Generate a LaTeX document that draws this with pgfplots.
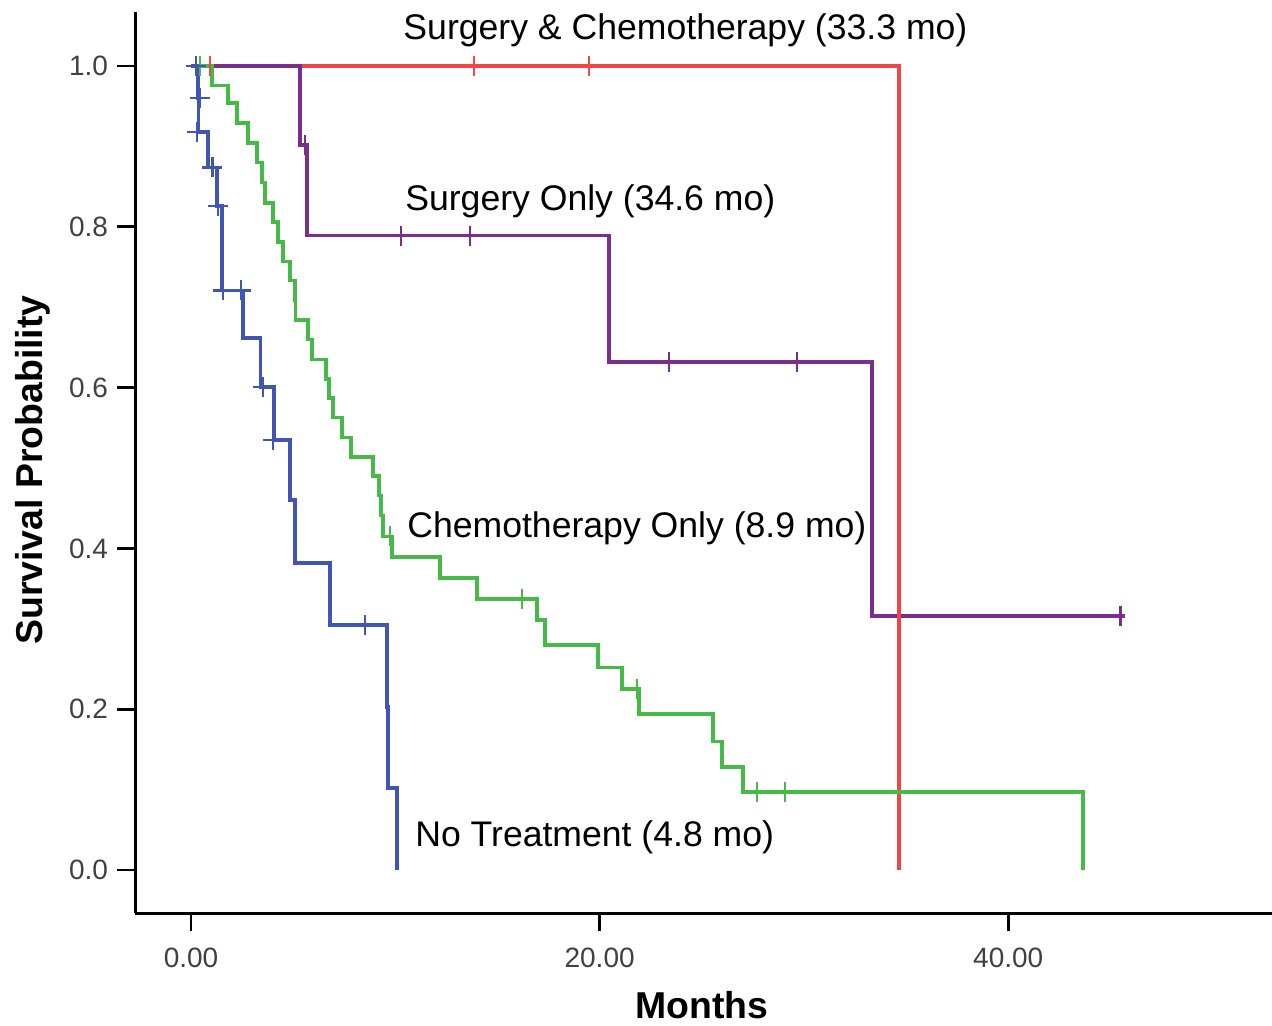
\documentclass[border=0pt]{standalone}
\usepackage{fontspec}
\setmainfont{Liberation Sans}
\usepackage{pgfplots}
\pgfplotsset{compat=1.18}
\definecolor{cred}{RGB}{240,70,70}
\definecolor{cpurple}{RGB}{122,46,142}
\definecolor{cgreen}{RGB}{70,185,70}
\definecolor{cblue}{RGB}{65,85,180}
\begin{document}
\begin{tikzpicture}
\useasboundingbox (0,0) rectangle (636pt,512.5pt);
\begin{axis}[
  at={(67.5pt,56pt)}, anchor=south west,
  scale only axis, width=568.5pt, height=450.5pt,
  xmin=-2.741, xmax=52.91, ymin=-0.0535, ymax=1.0672,
  axis lines=left, axis line style={-, line width=1.5pt, black},
  clip=false,
  tick align=outside, major tick length=9pt,
  tick style={line width=1.4pt, black},
  xtick={0,20,40}, ytick={0,0.2,0.4,0.6,0.8,1.0},
  /pgf/number format/assume math mode=true,
  xticklabel style={font=\fontsize{14}{16}\selectfont, text=black!75, yshift=-5pt,
    /pgf/number format/fixed, /pgf/number format/fixed zerofill,
    /pgf/number format/precision=2},
  yticklabel style={font=\fontsize{14}{16}\selectfont, text=black!75, xshift=-1pt,
    /pgf/number format/fixed, /pgf/number format/fixed zerofill,
    /pgf/number format/precision=1},
  every axis plot/.append style={line width=1.8pt},
]
% Surgery & Chemotherapy (red)
\addplot[cred, const plot, mark=none] coordinates {(0,1)(34.65,1)(34.65,0)};
\addplot[cred, only marks, mark=|, mark size=5pt, mark options={line width=1.3pt}] coordinates {(0.93,1)(13.85,1)(19.48,1)};
% Surgery only (purple)
\addplot[cpurple, const plot, mark=none] coordinates {(0,1)(5.34,0.902)(5.68,0.789)(20.46,0.632)(33.33,0.316)(45.72,0.316)};
\addplot[cpurple, only marks, mark=|, mark size=5pt, mark options={line width=1.3pt}] coordinates {(5.58,0.902)(10.28,0.789)(13.66,0.789)(23.4,0.632)(29.66,0.632)(45.5,0.316)};
% red drop on top
\addplot[cred, mark=none] coordinates {(34.65,1)(34.65,0)};
% Chemotherapy only (green)
\addplot[cgreen, const plot, mark=none] coordinates {(0,1)(1.03,0.976)(1.81,0.954)(2.25,0.929)(2.79,0.904)(3.23,0.880)(3.48,0.855)(3.62,0.830)(4.01,0.806)(4.26,0.781)(4.50,0.757)(4.85,0.733)(5.09,0.709)(5.12,0.684)(5.73,0.660)(5.92,0.635)(6.61,0.611)(6.75,0.587)(6.95,0.563)(7.39,0.538)(7.83,0.514)(8.91,0.490)(9.20,0.466)(9.30,0.441)(9.40,0.415)(9.85,0.389)(12.19,0.363)(14.00,0.337)(16.94,0.311)(17.33,0.280)(19.92,0.252)(21.10,0.225)(21.93,0.194)(25.55,0.160)(25.99,0.128)(27.02,0.097)(43.66,0.097)(43.66,0)};
\addplot[cgreen, only marks, mark=|, mark size=5pt, mark options={line width=1.3pt}] coordinates {(0.45,1.0)(9.74,0.415)(16.20,0.337)(21.83,0.225)(27.70,0.097)(29.07,0.097)};
% No treatment (blue)
\addplot[cblue, const plot, mark=none] coordinates {(0,1)(0.34,0.96)(0.36,0.918)(0.83,0.874)(1.27,0.826)(1.52,0.721)(2.55,0.662)(3.40,0.601)(4.06,0.535)(4.85,0.460)(5.09,0.382)(6.80,0.305)(9.59,0.203)(9.64,0.102)(10.09,0.102)(10.09,0)};
\addplot[cblue, only marks, mark=+, mark size=5pt, mark options={line width=1.3pt}] coordinates {(0.24,1.0)(0.44,0.96)(0.30,0.918)(1.05,0.874)(1.32,0.826)(1.57,0.721)(2.45,0.721)(3.52,0.601)(4.01,0.535)};
\addplot[cblue, only marks, mark=|, mark size=5pt, mark options={line width=1.3pt}] coordinates {(8.51,0.305)};
% annotations
\node[anchor=west, inner sep=0pt, font=\fontsize{17.8}{20}\selectfont] at (axis cs:10.38,1.045) {Surgery \& Chemotherapy (33.3 mo)};
\node[anchor=west, inner sep=0pt, font=\fontsize{17.8}{20}\selectfont] at (axis cs:10.47,0.8313) {Surgery Only (34.6 mo)};
\node[anchor=west, inner sep=0pt, font=\fontsize{17.8}{20}\selectfont] at (axis cs:10.57,0.4246) {Chemotherapy Only (8.9 mo)};
\node[anchor=west, inner sep=0pt, font=\fontsize{17.8}{20}\selectfont] at (axis cs:10.96,0.0403) {No Treatment (4.8 mo)};
\node[rotate=90, anchor=center, inner sep=0pt, font=\fontsize{18.7}{20}\selectfont\bfseries] at (rel axis cs:-0.0897,0.4917) {Survival Probability};
\node[anchor=center, inner sep=0pt, font=\fontsize{18.7}{20}\selectfont\bfseries] at (rel axis cs:0.4987,-0.1021) {Months};
\end{axis}
\end{tikzpicture}
\end{document}
